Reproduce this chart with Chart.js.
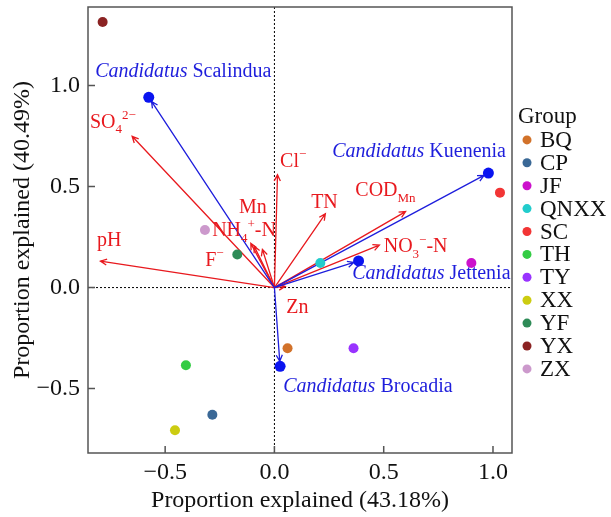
<!DOCTYPE html>
<html>
<head>
<meta charset="utf-8">
<script src="https://cdn.jsdelivr.net/npm/chart.js@4.4.0/dist/chart.umd.min.js"></script>
<style>
  html, body { margin: 0; padding: 0; background: #fff; }
</style>
</head>
<body>
<canvas id="rdaChart" width="611" height="517"></canvas>
<script>
// Группы образцов и их координаты (RDA1, RDA2)
var groups = ['BQ', 'CP', 'JF', 'QNXX', 'SC', 'TH', 'TY', 'XX', 'YF', 'YX', 'ZX'];
var groupColors = ['#D2722A', '#3A6896', '#CC11CC', '#22CCCC', '#F23535', '#33CC44', '#9933FF', '#CCCC11', '#2E8B57', '#8B2323', '#CC99CC'];
var sampleX = [0.06, -0.284, 0.901, 0.21, 1.032, -0.405, 0.362, -0.455, -0.17, -0.786, -0.318];
var sampleY = [-0.30, -0.63, 0.122, 0.122, 0.47, -0.385, -0.30, -0.706, 0.164, 1.315, 0.285];

// Виды (синие стрелки)
var species = ['Scalindua', 'Kuenenia', 'Jettenia', 'Brocadia'];
var speciesX = [-0.575, 0.979, 0.385, 0.026];
var speciesY = [0.942, 0.567, 0.132, -0.39];

// Факторы среды (красные стрелки)
var envNames = ['SO4', 'pH', 'Mn', 'F', 'NH4', 'Cl', 'TN', 'COD', 'NO3', 'Zn'];
var envX = [-0.651, -0.796, -0.108, -0.093, -0.055, 0.014, 0.233, 0.60, 0.48, 0.049];
var envY = [0.749, 0.131, 0.219, 0.205, 0.189, 0.559, 0.365, 0.376, 0.21, 0.006];

// Деления осей
var xTicks = [-0.5, 0, 0.5, 1.0];
var yTicks = [-0.5, 0, 0.5, 1.0];

var xTitle = 'Proportion explained (43.18%)';
var yTitle = 'Proportion explained (40.49%)';
var legendTitle = 'Group';

var RED = '#E8191E';
var BLUE = '#1E1EDC';
var FONT = '"Liberation Serif", "Times New Roman", serif';

// Подписи: сегменты текста [текст, стиль], якорь (левый край, середина) в единицах осей
var labelDefs = [
  { parts: [['Candidatus', 'i'], [' Scalindua', 'n']], x: -0.82, y: 1.066, color: BLUE },
  { parts: [['Candidatus', 'i'], [' Kuenenia', 'n']], x: 0.264, y: 0.67, color: BLUE },
  { parts: [['Candidatus', 'i'], [' Jettenia', 'n']], x: 0.356, y: 0.07, color: BLUE },
  { parts: [['Candidatus', 'i'], [' Brocadia', 'n']], x: 0.04, y: -0.493, color: BLUE },
  { parts: [['SO', 'n'], ['4', 'sub'], ['2\u2212', 'sup']], x: -0.844, y: 0.818, color: RED },
  { parts: [['pH', 'n']], x: -0.812, y: 0.234, color: RED },
  { parts: [['Mn', 'n']], x: -0.162, y: 0.397, color: RED },
  { parts: [['NH', 'n'], ['4', 'sub'], ['+', 'sup'], ['-N', 'n']], x: -0.285, y: 0.279, color: RED },
  { parts: [['F', 'n'], ['\u2212', 'sup']], x: -0.317, y: 0.135, color: RED },
  { parts: [['Cl', 'n'], ['\u2212', 'sup']], x: 0.026, y: 0.625, color: RED },
  { parts: [['TN', 'n']], x: 0.168, y: 0.422, color: RED },
  { parts: [['COD', 'n'], ['Mn', 'sub']], x: 0.37, y: 0.477, color: RED },
  { parts: [['NO', 'n'], ['3', 'sub'], ['\u2212', 'sup'], ['-N', 'n']], x: 0.50, y: 0.20, color: RED },
  { parts: [['Zn', 'n']], x: 0.054, y: -0.102, color: RED }
];

function fmt(v) {
  return v.toFixed(1).replace('-', '\u2212');
}

function drawArrow(ctx, x0, y0, x1, y1, color, shorten) {
  var ang = Math.atan2(y1 - y0, x1 - x0);
  x1 -= Math.cos(ang) * shorten;
  y1 -= Math.sin(ang) * shorten;
  var head = 7, spread = 0.45;
  ctx.strokeStyle = color;
  ctx.lineWidth = 1.3;
  ctx.beginPath();
  ctx.moveTo(x0, y0);
  ctx.lineTo(x1, y1);
  ctx.moveTo(x1 - head * Math.cos(ang - spread), y1 - head * Math.sin(ang - spread));
  ctx.lineTo(x1, y1);
  ctx.lineTo(x1 - head * Math.cos(ang + spread), y1 - head * Math.sin(ang + spread));
  ctx.stroke();
}

function drawParts(ctx, parts, x, y, color) {
  ctx.fillStyle = color;
  ctx.textBaseline = 'middle';
  ctx.textAlign = 'left';
  parts.forEach(function(p) {
    var txt = p[0], st = p[1];
    var size = 20, dy = 0, style = '';
    if (st === 'i') style = 'italic ';
    if (st === 'sub') { size = 13; dy = 7; }
    if (st === 'sup') { size = 13; dy = -7; }
    ctx.font = style + size + 'px ' + FONT;
    ctx.fillText(txt, x, y + dy);
    x += ctx.measureText(txt).width;
  });
}

// Плагин: рамка, пунктир нуля, стрелки, подписи, легенда
var biplotPlugin = {
  id: 'biplot',
  beforeDatasetsDraw: function(chart) {
    var ctx = chart.ctx, a = chart.chartArea;
    var xs = chart.scales.x, ys = chart.scales.y;
    var ox = xs.getPixelForValue(0), oy = ys.getPixelForValue(0);
    ctx.save();
    // пунктирные линии через ноль
    ctx.strokeStyle = '#000';
    ctx.lineWidth = 1;
    ctx.setLineDash([2, 2]);
    ctx.beginPath();
    ctx.moveTo(ox, a.top); ctx.lineTo(ox, a.bottom);
    ctx.moveTo(a.left, oy); ctx.lineTo(a.right, oy);
    ctx.stroke();
    ctx.setLineDash([]);
    // красные стрелки
    envX.forEach(function(v, i) {
      drawArrow(ctx, ox, oy, xs.getPixelForValue(v), ys.getPixelForValue(envY[i]), RED, 0);
    });
    // синие стрелки
    speciesX.forEach(function(v, i) {
      drawArrow(ctx, ox, oy, xs.getPixelForValue(v), ys.getPixelForValue(speciesY[i]), BLUE, 5);
    });
    ctx.restore();
  },
  afterDatasetsDraw: function(chart) {
    var ctx = chart.ctx, a = chart.chartArea;
    var xs = chart.scales.x, ys = chart.scales.y;
    ctx.save();
    labelDefs.forEach(function(l) {
      drawParts(ctx, l.parts, xs.getPixelForValue(l.x), ys.getPixelForValue(l.y), l.color);
    });
    // рамка
    ctx.strokeStyle = '#555';
    ctx.lineWidth = 1.5;
    ctx.strokeRect(a.left, a.top, a.right - a.left, a.bottom - a.top);
    // деления внутрь
    ctx.beginPath();
    xTicks.forEach(function(v) {
      var px = xs.getPixelForValue(v);
      ctx.moveTo(px, a.bottom); ctx.lineTo(px, a.bottom - 7);
    });
    yTicks.forEach(function(v) {
      var py = ys.getPixelForValue(v);
      ctx.moveTo(a.left, py); ctx.lineTo(a.left + 7, py);
    });
    ctx.stroke();
    // легенда
    var lx = a.right + 15, ly = 117, step = 22.9;
    ctx.fillStyle = '#111';
    ctx.font = '23px ' + FONT;
    ctx.textBaseline = 'middle';
    ctx.textAlign = 'left';
    ctx.fillText(legendTitle, a.right + 6, ly);
    groups.forEach(function(g, i) {
      var cy = ly + step * (i + 1);
      ctx.fillStyle = groupColors[i];
      ctx.beginPath();
      ctx.arc(lx, cy, 4.5, 0, Math.PI * 2);
      ctx.fill();
      ctx.fillStyle = '#111';
      ctx.fillText(g, a.right + 28, cy + 1);
    });
    ctx.restore();
  }
};

var datasets = groups.map(function(g, i) {
  return {
    label: g,
    data: [{ x: sampleX[i], y: sampleY[i] }],
    backgroundColor: groupColors[i],
    borderWidth: 0,
    pointRadius: 5,
    pointHoverRadius: 5
  };
});
datasets.push({
  label: 'species',
  data: speciesX.map(function(v, i) { return { x: v, y: speciesY[i] }; }),
  backgroundColor: '#0A14F0',
  borderWidth: 0,
  pointRadius: 5.5,
  pointHoverRadius: 5.5
});

var chart = new Chart(document.getElementById('rdaChart'), {
  type: 'scatter',
  data: { datasets: datasets },
  options: {
    responsive: false,
    animation: false,
    events: [],
    layout: { padding: { top: 7, right: 99, left: 0, bottom: 0 } },
    plugins: { legend: { display: false }, tooltip: { enabled: false } },
    scales: {
      x: {
        type: 'linear',
        min: -0.853,
        max: 1.087,
        afterBuildTicks: function(s) { s.ticks = xTicks.map(function(v) { return { value: v }; }); },
        afterFit: function(s) { s.height = 64; s.paddingLeft = 0; s.paddingRight = 0; },
        grid: { display: false, drawTicks: false },
        border: { display: false },
        ticks: {
          padding: 5,
          color: '#111',
          font: { family: FONT, size: 24 },
          maxRotation: 0,
          callback: function(v) { return fmt(v); }
        },
        title: {
          display: true,
          text: xTitle,
          color: '#111',
          font: { family: FONT, size: 24 },
          padding: { top: 0, bottom: 2 }
        }
      },
      y: {
        type: 'linear',
        min: -0.819,
        max: 1.389,
        afterBuildTicks: function(s) { s.ticks = yTicks.map(function(v) { return { value: v }; }); },
        afterFit: function(s) { s.width = 88; s.paddingTop = 0; s.paddingBottom = 0; },
        grid: { display: false, drawTicks: false },
        border: { display: false },
        ticks: {
          padding: 8,
          color: '#111',
          font: { family: FONT, size: 24 },
          callback: function(v) { return fmt(v); }
        },
        title: {
          display: true,
          text: yTitle,
          color: '#111',
          font: { family: FONT, size: 24 },
          padding: { top: 8, bottom: 0 }
        }
      }
    }
  },
  plugins: [biplotPlugin]
});
</script>
</body>
</html>
